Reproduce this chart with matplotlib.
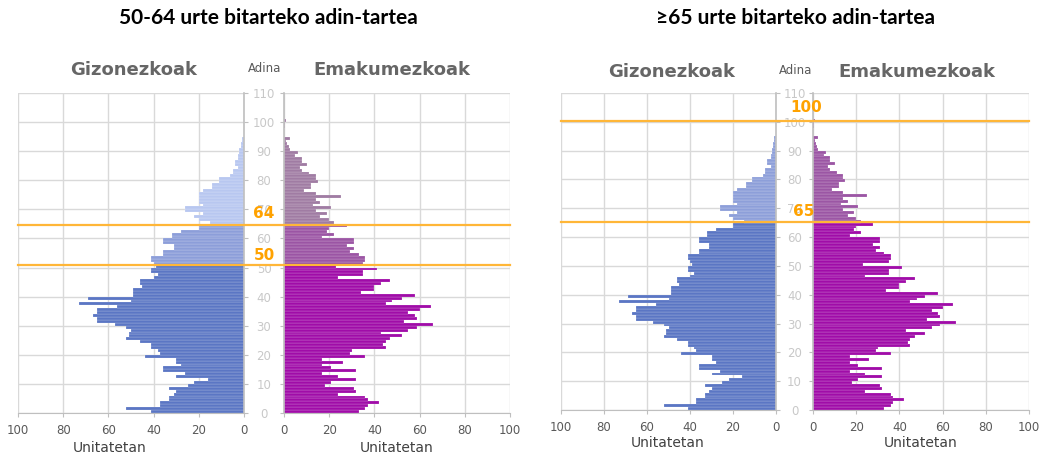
import matplotlib
matplotlib.use('Agg')
import matplotlib.pyplot as plt
import numpy as np
from matplotlib.lines import Line2D
from matplotlib.transforms import blended_transform_factory

W, H = 1061, 459

# Data: population by single year of age (units), same for both panels
ages = np.arange(101)
men = [41, 52, 37, 37, 33, 33, 31, 30, 33, 25,
       22, 16, 30, 26, 36, 36, 28, 30, 30, 44,
       37, 38, 41, 41, 46, 52, 51, 51, 50, 52,
       57, 65, 65, 67, 65, 65, 56, 73, 50, 69,
       49, 49, 49, 45, 46, 46, 40, 38, 41, 41,
       39, 40, 41, 41, 36, 36, 31, 31, 36, 36,
       32, 32, 28, 20, 20, 15, 20, 22, 18, 26,
       26, 18, 20, 20, 20, 20, 18, 14, 14, 11,
       11, 6, 5, 5, 2.5, 4, 4, 2.5, 2.5, 2,
       2, 1.5, 1.5, 1, 1, 0, 0, 0, 0, 0, 0]
women = [33, 36, 37, 42, 37, 36, 24, 32, 31, 18,
         21, 32, 24, 17, 32, 21, 17, 26, 17, 36,
         29, 30, 45, 44, 45, 47, 52, 43, 55, 59,
         66, 53, 59, 58, 55, 60, 65, 45, 48, 52,
         58, 34, 40, 40, 43, 47, 24, 35, 35, 41,
         23, 35, 36, 36, 33, 29, 31, 28, 31, 31,
         17, 22, 19, 20, 28, 22, 20, 16, 19, 14,
         21, 13, 16, 14, 25, 14, 9, 12, 12, 15,
         14, 14, 11, 8, 7, 10, 8, 8, 5, 6,
         2.5, 2, 1.5, 1, 2.5, 0, 0, 0, 0.5, 0.5, 1]

titles = ['50-64 urte bitarteko adin-tartea', '≥65 urte bitarteko adin-tartea']
cut_lines = [[51.0, 64.7], [65.4, 100.2]]
cut_labels = [['50', '64'], ['65', '100']]

age_ticks = np.arange(0, 111, 10)
count_ticks = np.arange(0, 101, 20)

ORANGE = '#ffb637'
ORANGE_TXT = '#ffa200'
GRID = '#d9d9d9'
SPINE = '#bfbfbf'

fig = plt.figure(figsize=(W / 100, H / 100), dpi=100)


def px_axes(x0, x1, y_top, y_bot):
    return fig.add_axes([x0 / W, 1 - y_bot / H, (x1 - x0) / W, (y_bot - y_top) / H])


def ftext(x, y, s, **kw):
    fig.text(x / W, 1 - y / H, s, **kw)


def pick_colors(cuts, cols):
    out = []
    for a in ages:
        c = a + 0.5
        k = sum(c > v for v in cuts)
        out.append(cols[min(k, len(cols) - 1)])
    return out


def style(ax, side):
    ax.set_ylim(0, 110)
    ax.set_yticks(age_ticks)
    ax.set_xticks(count_ticks)
    ax.grid(True, color=GRID, lw=1)
    ax.set_axisbelow(True)
    for s in ['top', 'left', 'right']:
        ax.spines[s].set_visible(False)
    ax.spines['bottom'].set_color(SPINE)
    ax.spines[side].set_visible(True)
    ax.spines[side].set_color(SPINE)
    ax.spines[side].set_linewidth(1.2)
    ax.tick_params(axis='x', length=3, color=SPINE, labelcolor='#595959',
                   labelsize=8.5, pad=5)


def pyramid(i, mx, wx, y_top, y_bot, men_cols, women_cols, pos):
    ax_m = px_axes(mx[0], mx[1], y_top, y_bot)
    ax_w = px_axes(wx[0], wx[1], y_top, y_bot)

    ax_m.barh(ages, men, height=1, align='edge',
              color=pick_colors(cut_lines[i], men_cols), edgecolor='white', linewidth=0.12)
    ax_w.barh(ages, women, height=1, align='edge',
              color=pick_colors(cut_lines[i], women_cols), edgecolor='white', linewidth=0.12)

    ax_m.set_xlim(100, 0)
    ax_w.set_xlim(0, 100)
    style(ax_m, 'right')
    style(ax_w, 'left')

    gap = wx[0] - mx[1]
    ax_m.yaxis.tick_right()
    ax_m.tick_params(axis='y', length=3, color=SPINE, labelcolor='#c8c8c8',
                     labelsize=8.5, pad=gap / 2 * 0.72 - 3)
    for lab in ax_m.get_yticklabels():
        lab.set_ha('center')
    ax_w.tick_params(axis='y', length=3, color=SPINE, labelleft=False)

    # orange age-band lines across the whole pyramid
    tr = blended_transform_factory(fig.transFigure, ax_m.transData)
    for y in cut_lines[i]:
        fig.add_artist(Line2D([mx[0] / W, wx[1] / W], [y, y], transform=tr,
                              color=ORANGE, lw=1.6))

    mid = (mx[1] + wx[0]) / 2
    ftext(pos['title_x'], 18, titles[i], ha='center', va='center',
          fontsize=15, fontweight='bold', family='Lato', color='black')
    ftext(pos['men_x'], pos['head_y'], 'Gizonezkoak', ha='center', va='center',
          fontsize=13, fontweight='bold', color='#666666')
    ftext(pos['women_x'], pos['head_y'], 'Emakumezkoak', ha='center', va='center',
          fontsize=13, fontweight='bold', color='#666666')
    ftext(mid + 1, pos['head_y'] - 2, 'Adina', ha='center', va='center',
          fontsize=8.5, color='#595959')
    for (lx, ly), s in zip(pos['cut_xy'], cut_labels[i]):
        ftext(lx, ly, s, ha='center', va='center', fontsize=11,
              fontweight='bold', color=ORANGE_TXT)
    ftext(pos['unit_m'], pos['unit_y'], 'Unitatetan', ha='center', va='center',
          fontsize=10, color='#404040')
    ftext((wx[0] + wx[1]) / 2, pos['unit_y'], 'Unitatetan', ha='center', va='center',
          fontsize=10, color='#404040')


pyramid(0, (18, 244), (284, 510), 93, 413,
        ['#5b76c4', '#8c9ed9', '#b8c7f0'],
        ['#a00ca8', '#9b55a4', '#a07ca3'],
        dict(title_x=268, head_y=70, men_x=134, women_x=392,
             cut_xy=[(264, 255), (264, 213)], unit_m=110, unit_y=448))

pyramid(1, (561, 776), (813, 1029), 93, 410,
        ['#5b76c4', '#8d9fd9'],
        ['#a00ca8', '#9b56a4'],
        dict(title_x=796, head_y=72, men_x=672, women_x=917,
             cut_xy=[(804, 211), (806, 107)], unit_m=668, unit_y=443))

fig.savefig('out.png', dpi=100)
